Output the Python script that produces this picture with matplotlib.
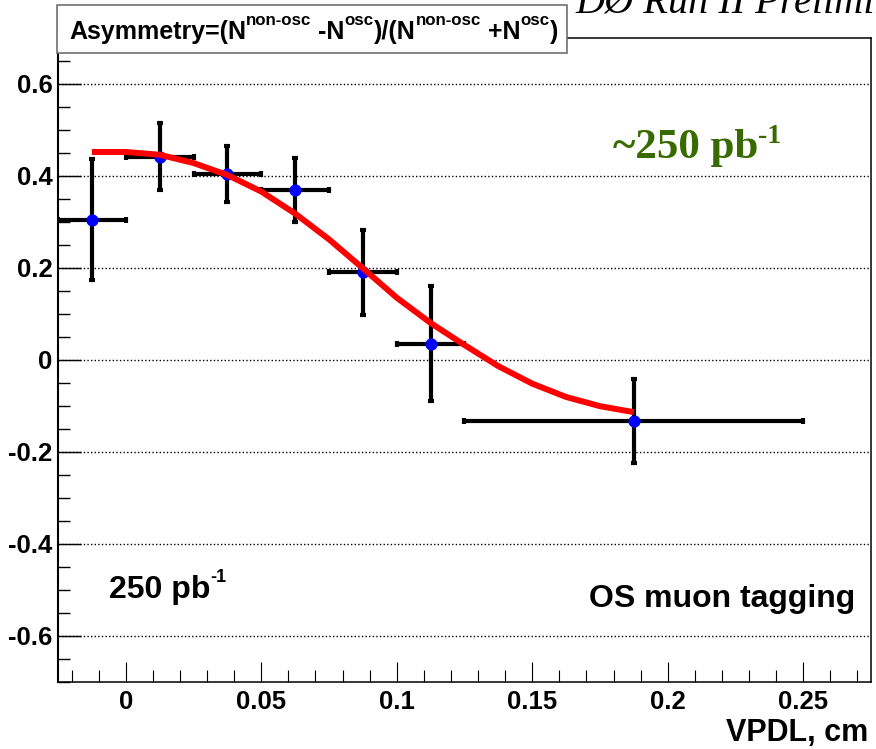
import matplotlib
matplotlib.use("Agg")
import matplotlib.pyplot as plt
from matplotlib.patches import Rectangle
from matplotlib.ticker import MultipleLocator, FixedLocator

# ---------------- data ----------------
vpdl = [-0.0125, 0.0125, 0.0375, 0.0625, 0.0875, 0.1125, 0.1875]
vpdl_err = [0.0125, 0.0125, 0.0125, 0.0125, 0.0125, 0.0125, 0.0625]
asym = [0.305, 0.442, 0.404, 0.369, 0.190, 0.035, -0.133]
asym_err = [0.131, 0.072, 0.061, 0.070, 0.093, 0.125, 0.092]

# fitted curve
fit_x = [-0.0125, 0.0, 0.0125, 0.025, 0.0375, 0.05, 0.0625, 0.075, 0.0875,
         0.1, 0.1125, 0.125, 0.1375, 0.15, 0.1625, 0.175, 0.1875]
fit_y = [0.452, 0.452, 0.446, 0.428, 0.402, 0.366, 0.318, 0.262, 0.199,
         0.135, 0.080, 0.032, -0.014, -0.052, -0.081, -0.101, -0.114]

xticks = [0, 0.05, 0.1, 0.15, 0.2, 0.25]
xticklabels = ["0", "0.05", "0.1", "0.15", "0.2", "0.25"]
yticks = [-0.6, -0.4, -0.2, 0, 0.2, 0.4, 0.6]
yticklabels = ["-0.6", "-0.4", "-0.2", "0", "0.2", "0.4", "0.6"]

# ---------------- figure ----------------
W, H = 876, 749
fig = plt.figure(figsize=(W / 100, H / 100), dpi=100)
SANS = "Liberation Sans"
SERIF = "Liberation Serif"

ax_l, ax_r, ax_t, ax_b = 58, 871, 38, 681.5
ax = fig.add_axes([ax_l / W, 1 - ax_b / H, (ax_r - ax_l) / W, (ax_b - ax_t) / H])
ax.set_xlim(-0.025, 0.275)
ax.set_ylim(-0.7, 0.7)

for name, s in ax.spines.items():
    s.set_linewidth(1.5 if name == "left" else 1.1)
    s.set_color("black")

ax.xaxis.set_major_locator(FixedLocator(xticks))
ax.xaxis.set_minor_locator(MultipleLocator(0.01))
ax.yaxis.set_major_locator(FixedLocator(yticks))
ax.yaxis.set_minor_locator(MultipleLocator(0.05))
ax.set_xticklabels(xticklabels, fontfamily=SANS, fontweight="bold", fontsize=18.5)
ax.set_yticklabels(yticklabels, fontfamily=SANS, fontweight="bold", fontsize=18.5)
ax.tick_params(axis="x", which="major", direction="in", length=14.4, width=0.8,
               pad=6, top=False)
ax.tick_params(axis="x", which="minor", direction="in", length=8.4, width=0.8, top=False)
ax.tick_params(axis="y", which="major", direction="in", length=16.5, width=1.0,
               pad=4, right=False)
ax.tick_params(axis="y", which="minor", direction="in", length=8.6, width=1.0, right=False)

ax.yaxis.grid(True, which="major", color="black", linewidth=1.0,
              linestyle=(0, (1, 1.6)))
ax.set_axisbelow(True)

ax.errorbar(vpdl, asym, xerr=vpdl_err, yerr=asym_err, fmt="none",
            ecolor="black", elinewidth=3.0, capsize=2.5, capthick=3.0, zorder=3)
ax.plot(vpdl, asym, "o", color="#0000ff", markersize=7.8, zorder=4)
ax.plot(fit_x, fit_y, color="#ff0000", linewidth=4.3, solid_capstyle="butt",
        solid_joinstyle="round", zorder=5)

# ---------------- rich text helper ----------------
fig.canvas.draw()
renderer = fig.canvas.get_renderer()


def rich(x, y, pieces, ha="left", zorder=10):
    """pieces: (text, size, rise_px, family, weight, style, color)"""
    arts = []
    cur = x
    for txt, size, rise, fam, wt, st, col in pieces:
        t = fig.text(cur / W, 1 - (y - rise) / H, txt, fontsize=size,
                     fontfamily=fam, fontweight=wt, fontstyle=st, color=col,
                     ha="left", va="baseline", zorder=zorder)
        bb = t.get_window_extent(renderer)
        cur += bb.width
        arts.append(t)
    if ha == "right":
        shift = (x - cur) / W
        for t in arts:
            px, py = t.get_position()
            t.set_position((px + shift, py))
    return arts


# top-right experiment label (cut by the figure edge, as in the reference)
rich(575, 13, [("DØ Run II Preliminary", 29, 0, SERIF, "normal", "italic", "black")],
     zorder=1)

# title box
box = Rectangle((57 / W, 1 - 53 / H), (567 - 57) / W, (53 - 5) / H,
                transform=fig.transFigure, facecolor="white", edgecolor="#707070",
                linewidth=1.2, zorder=8)
fig.patches.append(box)
B = 18
S = 12.2
R = 14
k = (SANS, "bold", "normal", "black")
rich(69, 39, [
    ("Asymmetry=(N", B, 0, *k),
    ("non-osc", S, R, *k),
    (" -N", B, 0, *k),
    ("osc", S, R, *k),
    (")/(N", B, 0, *k),
    ("non-osc", S, R, *k),
    (" +N", B, 0, *k),
    ("osc", S, R, *k),
    (")", B, 0, *k),
])

# green luminosity label
g = (SERIF, "bold", "normal", "#386a00")
rich(613, 158, [("~250 pb", 31, 0, *g), ("-1", 20, 15, *g)])

# in-plot labels
rich(109, 598, [("250 pb", 23, 0, *k), ("-1", 13, 16, *k)])
rich(855, 606.5, [("OS muon tagging", 23, 0, *k)], ha="right")
rich(868, 741.5, [("VPDL, cm", 22, 0, *k)], ha="right")

fig.savefig("out.png", dpi=100)
